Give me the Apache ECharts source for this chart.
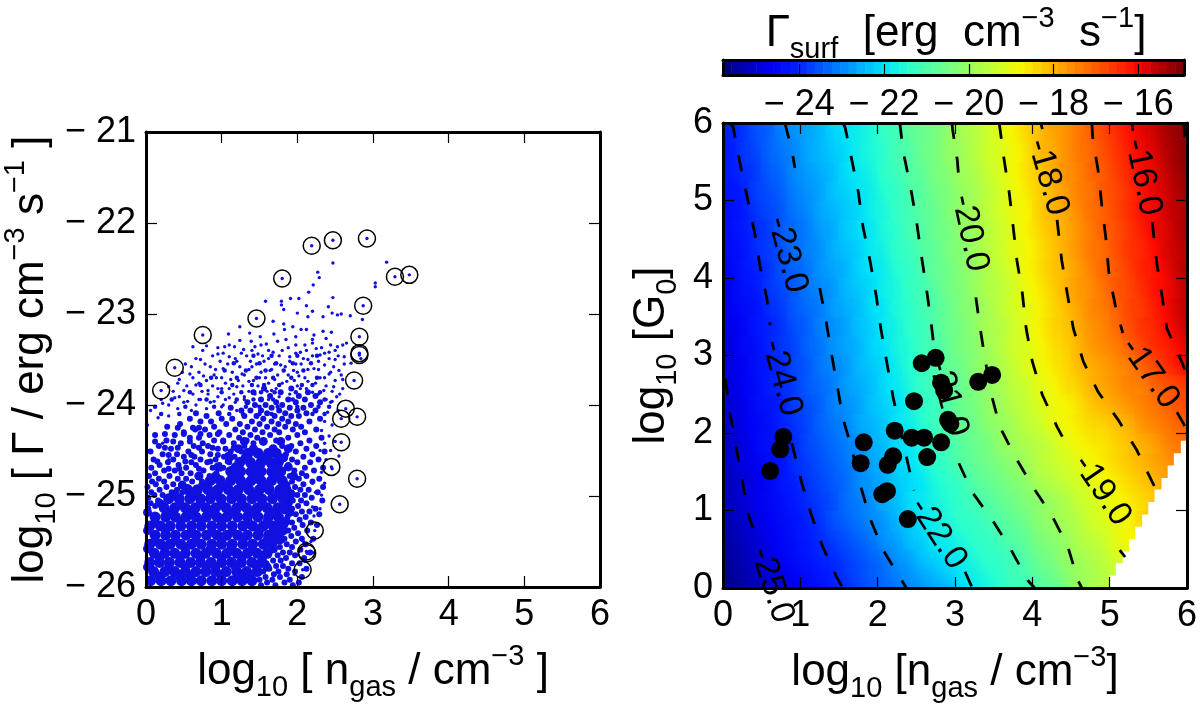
<!DOCTYPE html>
<html><head><meta charset="utf-8">
<style>html,body{margin:0;padding:0;background:#fff}#c{width:1200px;height:706px}</style>
<script src="https://cdn.jsdelivr.net/npm/echarts@6/dist/echarts.min.js"></script>
</head><body><div id="c"></div>
<script>
// ---- left panel: log10 n_gas, log10 Gamma ----
const circledPoints=[[.2,-23.84],[.38,-23.59],[.75,-23.23],[1.46,-23.05],[1.8,-22.61],[2.19,-22.25],[2.47,-22.19],[2.92,-22.17],[3.29,-22.59],[3.48,-22.57],[2.87,-22.91],[2.82,-23.25],[2.82,-23.45],[2.82,-23.43],[2.75,-23.73],[2.64,-24.04],[2.58,-24.15],[2.79,-24.13],[2.58,-24.41],[2.45,-24.68],[2.79,-24.81],[2.56,-25.09],[2.23,-25.38],[2.13,-25.63],[2.12,-25.61],[2.07,-25.81]];
const sparsePoints=[[2.47,-22.44],[2.27,-22.54],[2.29,-22.6],[3.18,-22.43],[3.03,-22.66],[3.03,-22.7],[2.21,-22.68],[2.15,-22.76],[2.02,-22.83],[1.91,-22.83],[1.79,-22.86],[1.79,-22.9],[1.82,-22.95],[1.58,-22.86],[2.47,-22.82],[2.12,-22.91],[2.41,-22.92],[2.2,-22.97],[2,-22.99],[2.14,-23.03],[2.34,-23.03],[2.46,-22.99],[2.53,-23.01],[2.58,-23],[2.7,-23.02],[2.86,-23.06],[1.68,-23.08],[1.82,-23.11],[1.24,-23.14],[1.94,-23.14],[2.05,-23.17],[2.12,-23.17],[2.34,-23.19],[2.45,-23.2],[1.09,-23.22],[1.37,-23.21],[1.51,-23.25],[1.69,-23.22],[1.83,-23.17],[1.85,-23.28],[1.98,-23.25],[2.22,-23.23],[2.38,-23.27],[1.24,-23.29],[1.39,-23.3],[.62,-23.36],[.8,-23.35],[1.04,-23.36],[1.17,-23.36],[1.29,-23.39],[1.44,-23.36],[1.59,-23.33],[1.74,-23.3],[1.98,-23.34],[2.2,-23.28],[2.2,-23.32],[2.25,-23.38],[2.53,-23.36],[2.6,-23.34],[2.65,-23.32],[2.84,-23.49],[2.71,-23.54],
[.95,-23.44],[1.1,-23.47],[.72,-23.5],[.52,-23.55],[.85,-23.58],[1.02,-23.6],[1.2,-23.52],[1.33,-23.46],[1.48,-23.44],[1.56,-23.52],[1.68,-23.42],[1.8,-23.4],[1.9,-23.47],[2.04,-23.42],[2.14,-23.5],[2.3,-23.45],[2.42,-23.42],[2.5,-23.5],[2.62,-23.47],[2.36,-23.56],[2.22,-23.6],[2.05,-23.55],[1.95,-23.62],[1.78,-23.56],[1.64,-23.62],[1.4,-23.58],[1.27,-23.66],[1.12,-23.72],[.93,-23.7],[.76,-23.68],[.58,-23.66],[.44,-23.72],[.3,-23.8],[.5,-23.84],[.66,-23.78],[.82,-23.84],[1,-23.82],[1.2,-23.8],[1.36,-23.74],[1.5,-23.7],[1.7,-23.72],[1.86,-23.74],[2.02,-23.68],[2.14,-23.74],[2.3,-23.7],[2.42,-23.66],[2.55,-23.62],[2.6,-23.72],[2.48,-23.8],[2.35,-23.84],[2.2,-23.86],[2.04,-23.82],[1.66,-23.84],[1.44,-23.88],[1.3,-23.94],[1.1,-23.92],[.9,-23.96],[.72,-23.94],[.55,-23.96],[.38,-23.92],[.22,-23.98],[.42,-24.04],[.6,-24.06],[.8,-24.04],[1,-24.02],[1.2,-24.06],[2.3,-23.96],[2.46,-23.96],[2.56,-23.88],[2.54,-24.06],[2.4,-24.08],[2.36,-24.18],[2.46,-24.22],[2.32,-24.28],[2.42,-24.34],[2.5,-24.4],[2.36,-24.42],[2.3,-24.5],[2.44,-24.5],[2.55,-24.56],[2.38,-24.6],[2.46,-24.7],[2.32,-24.74],[2.2,-24.86],[2.36,-24.86],[2.24,-24.96],[2.32,-24.99],[2.06,-25.3],[2.2,-25.12],[2.3,-25.14],[2.08,-25.5],[2.22,-25.22],[2.18,-25.5],[2.2,-25.62],[2.1,-25.72],[2.02,-25.94],[1.96,-25.86],[.06,-24.06],[.02,-24.22],[.16,-24.14],[.3,-24.12],[.04,-24.5],[.22,-24.42],[.3,-24.6]];
const sparseRows=[[-24,[.3,.66,1.02]],[-23.97,[.5,.85,1.18,2.44]],[-23.94,[.2,.7,1.05,1.62,2.38]],[-23.91,[.44,.95,1.3,1.76,2.52]],[-23.88,[.62,.82,1.16,1.9,2.28]],[-23.85,[.36,.74,1.36,1.6,2.46]],[-23.82,[.95,1.1,1.72,2.12,2.6]],[-23.79,[.54,.88,1.28,1.48,2,2.38]],[-23.76,[.42,.7,1.05,1.62,1.8,2.24]],[-23.73,[.8,1.22,1.42,1.96,2.5]],[-23.7,[.62,1,1.58,2.1,2.36]],[-23.67,[.9,1.3,1.74,1.88,2.58]],[-23.64,[.48,.7,1.14,1.52,2,2.44]],[-23.61,[.92,1.36,1.66,2.14,2.28]],[-23.58,[.6,1.24,1.84,2.48]],[-23.55,[.78,1.08,1.46,1.7,1.98,2.62]],[-23.52,[.98,1.38,1.9,2.28]],[-23.49,[.66,1.18,1.62,2.08,2.42]],[-23.46,[.88,1.54,1.76,2.2,2.54]],[-23.43,[1.02,1.26,1.98,2.36]],[-23.4,[.75,1.4,1.62,2.12,2.5]],[-23.37,[.95,1.88,2.32]],[-23.34,[1.1,1.52,2.1,2.44]]];
const transitionRows=[[-24.1,[.2,.44,1.1,1.28,1.5,1.66,2.2,2.36]],[-24.02,[.12,.52,.9,1.32,1.5,1.74,2,2.28,2.42]],[-23.94,[.34,.8,1.2,1.42,1.68,1.94,2.36]],[-23.86,[.58,1,1.26,1.52,1.7,1.98,2.3]],[-23.78,[.72,1.14,1.4,1.56,1.76,2.06,2.2]],[-23.7,[.86,1.2,1.46,1.68,1.92,2.26]],[-23.62,[1.04,1.32,1.58,1.82,2.08]],[-23.54,[1.16,1.5,1.72,1.94,2.18]],[-23.46,[1.42,1.66,2,2.26]]];
const midDotRows=[[-25.98,[1.52,1.71,1.94]],[-25.95,[1.6,1.83,2.02]],[-25.92,[1.5,1.67,1.9]],[-25.89,[1.58,1.77,2.06]],[-25.86,[1.69,1.86]],[-25.83,[1.55,1.75,1.97]],[-25.8,[1.63,1.88,2.12]],[-25.77,[1.72,1.81]],[-25.74,[1.59,1.93,2.03]],[-25.71,[1.68,1.78]],[-25.68,[1.85,2.09]],[-25.65,[1.62,1.74,1.97]],[-25.62,[1.81,1.9,2.17]],[-25.59,[1.7,2.04]],[-25.56,[1.77,1.93]],[-25.53,[1.66,1.86,2.11]],[-25.5,[1.74,1.98]],[-25.47,[1.83,2.06,2.21]],[-25.44,[1.72,1.92]],[-25.41,[1.8,2.01]],[-25.38,[1.88,2.13]],[-25.35,[1.76,1.96]],[-25.32,[1.84,2.07,2.26]],[-25.29,[1.93,2.18]],[-25.26,[1.79,2.03]],[-25.23,[1.87,2.11]],[-25.2,[1.98,2.29]],[-25.17,[1.84,2.06,2.16]],[-25.14,[1.93,2.24,.03]],[-25.11,[1.88,2.01,.12]],[-25.08,[2.12,.06,.21]],[-25.05,[1.94,2.05,2.33,.16]],[-25.02,[1.9,2.19,.03,.27]],[-24.99,[2,2.1,.11,.22]],[-24.96,[1.92,2.27,.07,.34,.48]],[-24.93,[2.04,2.15,.18,.41]],[-24.9,[1.97,2.34,.02,.27,.55]],[-24.87,[2.08,.13,.36,.47]],[-24.84,[1.93,2.2,.08,.24,.61,.74]],[-24.81,[2.02,2.29,.17,.42,.53]],[-24.78,[1.9,2.12,.04,.31,.68,.84]],[-24.75,[2.06,.12,.47,.59,.93]],[-24.72,[1.96,2.22,.24,.38,.76]],[-24.69,[2.1,2.34,.07,.53,.88,1.02]],[-24.66,[1.88,.18,.43,.66,.97]],[-24.63,[2,2.17,.29,.6,.81,1.1]],[-24.6,[1.93,2.28,.1,.36,.72,.92]],[-24.57,[2.08,.5,.64,1.03,1.17]],[-24.54,[1.85,2.2,.22,.41,.85]],[-24.51,[1.98,2.36,.06,.56,.74,1.12,1.26]],[-24.48,[2.12,.33,.95,1.05]],[-24.45,[1.8,1.92,2.25,.17,.63,.82,1.3]],[-24.42,[2.04,.46,.75,1.16,1.42]],[-24.39,[1.72,2.16,.27,.9,1.02,1.33,1.56]],[-24.36,[1.88,2.32,.58,.7,1.23,1.47]],[-24.33,[2,.12,.38,.84,1.1,1.38,1.64]],[-24.3,[1.76,2.1,.5,.97,1.28,1.54]],[-24.27,[1.94,2.25,.65,.78,1.18,1.44,1.7]],[-24.24,[1.84,2.05,.28,.9,1.34,1.6]],[-24.21,[1.98,.45,1.06,1.24,1.5,1.75]],[-24.18,[2.16,.72,.86,1.4,1.66,1.88]],[-24.15,[2.3,.58,1,1.14,1.55,1.8]],[-24.12,[2.02,.8,1.3,1.46,1.7,1.92]],[-24.09,[2.12,.66,.96,1.6,1.84]],[-24.06,[1.26,1.38,1.52,1.76,2,2.24]],[-24.03,[1.12,1.66,1.9,2.08]],[-24,[1.44,1.58,1.8,2.18]],[-23.97,[1.34,1.72,1.98,2.3]],[-23.94,[1.52,1.88,2.1]],[-23.9,[1.64,2.02,2.24]],[-23.86,[1.42,1.78,2.14]],[-23.82,[1.56,1.92]],
[-24.7,[.3,.44,.7,.98]],[-24.62,[.15,.52,.85,1.08]],[-24.55,[.3,.6,.95,1.08]],[-24.47,[.25,.42,.7,.88,1.16]],[-24.4,[.12,.36,.58,1.02]],[-24.32,[.25,.5,.72,.95]],[-24.25,[.42,.62,.7]]];
const coreDotRows=[[-25.93,[.06,.2,.33,.47,.6,.73,.87,1,1.14,1.27,1.4]],[-25.83,[.1,.25,.38,.52,.66,.79,.92,1.06,1.2,1.33,1.47]],[-25.73,[.05,.18,.31,.45,.59,.72,.86,1,1.13,1.26,1.4,1.53]],[-25.63,[.11,.25,.38,.52,.66,.79,.93,1.07,1.2,1.34,1.47,1.6]],[-25.53,[.05,.19,.32,.46,.6,.73,.87,1,1.14,1.28,1.41,1.55,1.66]],[-25.43,[.12,.26,.39,.53,.66,.8,.94,1.07,1.21,1.34,1.48,1.62,1.72]],[-25.33,[.05,.19,.32,.46,.6,.73,.87,1,1.14,1.28,1.41,1.55,1.68,1.76]],[-25.23,[.12,.26,.39,.53,.66,.8,.94,1.07,1.21,1.34,1.48,1.62,1.75]],[-25.13,[.24,.38,.52,.65,.79,.92,1.06,1.2,1.33,1.47,1.6,1.74,1.82]],[-25.03,[.3,.44,.58,.72,.85,.99,1.13,1.26,1.4,1.53,1.67,1.81]],[-24.93,[.55,.68,.82,.95,1.09,1.22,1.36,1.5,1.63,1.77,1.85]],[-24.83,[.85,.98,1.12,1.25,1.39,1.52,1.66,1.8]],[-24.73,[1.12,1.25,1.39,1.52,1.66,1.78]],[-24.63,[1.24,1.38,1.52,1.65,1.75]],[-24.53,[1.35,1.48,1.62,1.72]]];
const fillDotRows=[[-25.88,[.17,.44,.58,.99,1.24,1.37]],[-25.78,[.02,.3,.52,.8,.92,1.18,1.46,1.6]],[-25.68,[.18,.45,.72,1,1.27,1.54]],[-25.58,[.02,.25,.52,.85,1.12,1.4,1.68]],[-25.48,[.12,.39,.66,1,1.28,1.6,1.78]],[-25.38,[.02,.26,.6,.87,1.14,1.5,1.82]],[-25.28,[.12,.46,.73,1,1.35,1.6,1.85]],[-25.18,[.02,.32,.59,.87,1.14,1.41,1.68,1.9]],[-25.08,[.18,.45,.72,1,1.27,1.54,1.88]],[-24.98,[.38,.65,.92,1.19,1.46,1.74,1.92]],[-24.88,[.48,.75,1.02,1.3,1.57,1.85]],[-24.78,[.7,.92,1.18,1.45,1.72,1.95]],[-24.68,[.95,1.18,1.45,1.72,1.88]],[-24.58,[1.1,1.31,1.58,1.82]],[-24.48,[1.22,1.42,1.68,1.88]],[-24.4,[1.3,1.55,1.78]]];
// ---- right panel: Gamma_surf map, 36 columns by 24 rows, from G0=0 upward ----
const gammaRows=[
[-25.6,-25.4,-25.2,-25,-24.9,-24.7,-24.5,-24.3,-24.1,-23.9,-23.7,-23.5,-23.3,-23.1,-22.9,-22.7,-22.5,-22.3,-22,-21.8,-21.6,-21.4,-21.2,-21.1,-20.8,-20.6,-20.3,-20,-19.8,-19.6,-19.4,-19.1],
[-25.5,-25.3,-25.1,-24.9,-24.7,-24.5,-24.3,-24.1,-24,-23.8,-23.6,-23.4,-23.2,-22.9,-22.7,-22.4,-22.2,-22,-21.8,-21.6,-21.4,-21.3,-21.1,-20.9,-20.6,-20.4,-20.1,-19.9,-19.7,-19.5,-19.2,-19,-18.8],
[-25.4,-25.2,-25,-24.8,-24.6,-24.4,-24.2,-24,-23.8,-23.6,-23.4,-23.2,-22.9,-22.7,-22.4,-22.2,-21.9,-21.8,-21.6,-21.4,-21.3,-21.1,-20.9,-20.7,-20.4,-20.2,-20,-19.7,-19.5,-19.3,-19,-18.8,-18.6],
[-25.3,-25.1,-24.9,-24.7,-24.5,-24.3,-24.1,-23.9,-23.6,-23.4,-23.2,-23,-22.8,-22.5,-22.3,-22,-21.8,-21.6,-21.4,-21.3,-21.1,-20.9,-20.7,-20.5,-20.2,-20,-19.8,-19.6,-19.3,-19.1,-18.9,-18.7,-18.4,-18.2],
[-25.2,-25,-24.8,-24.6,-24.4,-24.2,-24,-23.8,-23.6,-23.3,-23.1,-22.9,-22.6,-22.4,-22.1,-21.9,-21.7,-21.5,-21.3,-21.1,-20.9,-20.7,-20.5,-20.3,-20.1,-19.9,-19.7,-19.4,-19.2,-19,-18.8,-18.6,-18.4,-18.2,-18],
[-25.2,-25,-24.8,-24.6,-24.3,-24.1,-23.9,-23.7,-23.5,-23.3,-23,-22.8,-22.6,-22.3,-22.1,-21.9,-21.6,-21.4,-21.2,-20.9,-20.7,-20.5,-20.3,-20.1,-19.8,-19.6,-19.4,-19.2,-19,-18.8,-18.6,-18.4,-18.2,-18,-17.8],
[-25.1,-24.9,-24.7,-24.5,-24.3,-24,-23.8,-23.6,-23.4,-23.2,-23,-22.7,-22.5,-22.2,-22,-21.7,-21.4,-21.2,-20.9,-20.7,-20.5,-20.3,-20.1,-19.9,-19.6,-19.4,-19.2,-19,-18.8,-18.6,-18.4,-18.2,-18,-17.8,-17.6,-17.4],
[-25.1,-24.9,-24.6,-24.4,-24.2,-24,-23.7,-23.5,-23.3,-23.1,-22.9,-22.6,-22.4,-22.1,-21.9,-21.6,-21.3,-21.1,-20.8,-20.6,-20.4,-20.1,-19.9,-19.7,-19.5,-19.3,-19,-18.8,-18.6,-18.5,-18.3,-18.1,-17.9,-17.7,-17.4,-17.2],
[-25,-24.8,-24.6,-24.4,-24.1,-23.9,-23.7,-23.4,-23.2,-23,-22.7,-22.5,-22.3,-22,-21.8,-21.5,-21.2,-21,-20.7,-20.5,-20.2,-20,-19.8,-19.5,-19.3,-19,-18.8,-18.6,-18.4,-18.3,-18.1,-17.9,-17.6,-17.4,-17.2,-17],
[-25,-24.8,-24.5,-24.3,-24.1,-23.8,-23.6,-23.4,-23.1,-22.9,-22.7,-22.4,-22.2,-22,-21.7,-21.4,-21.2,-20.9,-20.6,-20.4,-20.1,-19.9,-19.6,-19.4,-19.1,-18.9,-18.7,-18.5,-18.2,-18,-17.8,-17.6,-17.4,-17.2,-17,-16.8],
[-24.9,-24.7,-24.5,-24.2,-24,-23.8,-23.5,-23.3,-23.1,-22.8,-22.6,-22.4,-22.1,-21.9,-21.6,-21.3,-21.1,-20.8,-20.6,-20.3,-20.1,-19.8,-19.5,-19.3,-19,-18.8,-18.5,-18.3,-18,-17.8,-17.6,-17.4,-17.3,-17,-16.8,-16.6],
[-24.9,-24.7,-24.4,-24.2,-24,-23.7,-23.5,-23.2,-23,-22.8,-22.5,-22.3,-22.1,-21.8,-21.5,-21.3,-21,-20.7,-20.5,-20.2,-20,-19.7,-19.4,-19.1,-18.9,-18.6,-18.4,-18.1,-17.9,-17.7,-17.5,-17.3,-17,-16.7,-16.4,-16.1],
[-24.9,-24.6,-24.4,-24.1,-23.9,-23.7,-23.4,-23.2,-22.9,-22.7,-22.5,-22.2,-22,-21.7,-21.5,-21.2,-21,-20.7,-20.4,-20.2,-19.9,-19.6,-19.3,-19.1,-18.8,-18.5,-18.3,-18,-17.7,-17.5,-17.3,-17,-16.7,-16.4,-16.2,-15.9],
[-24.8,-24.6,-24.3,-24.1,-23.9,-23.6,-23.4,-23.1,-22.9,-22.7,-22.4,-22.2,-21.9,-21.7,-21.4,-21.2,-20.9,-20.6,-20.4,-20.1,-19.8,-19.6,-19.3,-19,-18.7,-18.4,-18.2,-17.9,-17.6,-17.4,-17.1,-16.8,-16.5,-16.3,-16,-15.7],
[-24.7,-24.5,-24.3,-24,-23.8,-23.5,-23.3,-23.1,-22.8,-22.6,-22.4,-22.1,-21.9,-21.6,-21.4,-21.1,-20.9,-20.6,-20.3,-20.1,-19.8,-19.5,-19.2,-19,-18.7,-18.4,-18.1,-17.8,-17.5,-17.3,-17,-16.7,-16.5,-16.2,-15.9,-15.6],
[-24.7,-24.4,-24.2,-23.9,-23.7,-23.5,-23.2,-23,-22.8,-22.5,-22.3,-22.1,-21.8,-21.6,-21.3,-21.1,-20.8,-20.5,-20.3,-20,-19.7,-19.5,-19.2,-18.9,-18.6,-18.3,-18,-17.7,-17.5,-17.2,-16.9,-16.7,-16.4,-16.1,-15.9,-15.6],
[-24.6,-24.3,-24.1,-23.9,-23.6,-23.4,-23.2,-22.9,-22.7,-22.5,-22.2,-22,-21.8,-21.5,-21.3,-21,-20.7,-20.5,-20.2,-20,-19.7,-19.4,-19.1,-18.8,-18.5,-18.2,-18,-17.7,-17.4,-17.1,-16.9,-16.6,-16.3,-16.1,-15.8,-15.5],
[-24.5,-24.3,-24,-23.8,-23.6,-23.3,-23.1,-22.9,-22.6,-22.4,-22.2,-21.9,-21.7,-21.4,-21.2,-20.9,-20.7,-20.4,-20.2,-19.9,-19.6,-19.3,-19,-18.8,-18.5,-18.2,-17.9,-17.6,-17.3,-17.1,-16.8,-16.5,-16.3,-16,-15.7,-15.5],
[-24.4,-24.2,-24,-23.8,-23.5,-23.3,-23.1,-22.8,-22.6,-22.3,-22.1,-21.9,-21.6,-21.4,-21.1,-20.9,-20.6,-20.4,-20.1,-19.9,-19.6,-19.3,-19,-18.7,-18.4,-18.1,-17.9,-17.6,-17.3,-17,-16.8,-16.5,-16.2,-15.9,-15.7,-15.4],
[-24.4,-24.2,-23.9,-23.7,-23.5,-23.2,-23,-22.7,-22.5,-22.3,-22.1,-21.8,-21.6,-21.3,-21.1,-20.8,-20.6,-20.3,-20.1,-19.8,-19.5,-19.2,-18.9,-18.7,-18.3,-18,-17.8,-17.5,-17.2,-17,-16.7,-16.4,-16.1,-15.9,-15.6,-15.4],
[-24.3,-24.1,-23.8,-23.6,-23.4,-23.1,-22.9,-22.7,-22.4,-22.2,-22,-21.8,-21.5,-21.3,-21,-20.8,-20.5,-20.3,-20,-19.8,-19.5,-19.2,-18.9,-18.6,-18.3,-18,-17.7,-17.4,-17.2,-16.9,-16.7,-16.4,-16.1,-15.8,-15.6,-15.3],
[-24.2,-24,-23.8,-23.5,-23.3,-23,-22.8,-22.6,-22.4,-22.1,-21.9,-21.7,-21.4,-21.2,-20.9,-20.7,-20.4,-20.2,-19.9,-19.7,-19.4,-19.1,-18.8,-18.5,-18.2,-17.9,-17.6,-17.4,-17.1,-16.9,-16.6,-16.3,-16,-15.8,-15.5,-15.2],
[-24.2,-23.9,-23.7,-23.4,-23.2,-23,-22.7,-22.5,-22.3,-22.1,-21.8,-21.6,-21.4,-21.1,-20.9,-20.6,-20.4,-20.1,-19.9,-19.6,-19.3,-19.1,-18.8,-18.5,-18.1,-17.9,-17.6,-17.3,-17.1,-16.8,-16.5,-16.2,-15.9,-15.7,-15.4,-15.1],
[-24.1,-23.9,-23.6,-23.4,-23.1,-22.9,-22.7,-22.5,-22.2,-22,-21.8,-21.6,-21.3,-21.1,-20.8,-20.6,-20.4,-20.1,-19.8,-19.6,-19.3,-19,-18.7,-18.4,-18.1,-17.8,-17.6,-17.3,-17,-16.7,-16.4,-16.1,-15.8,-15.6,-15.3,-15.1]];
const noDataCorners=[[5,0],[5,.16],[5.08,.16],[5.08,.32],[5.17,.32],[5.17,.47],[5.25,.47],[5.25,.63],[5.33,.63],[5.33,.79],[5.42,.79],[5.42,.95],[5.5,.95],[5.5,1.11],[5.58,1.11],[5.58,1.27],[5.67,1.27],[5.67,1.42],[5.75,1.42],[5.75,1.58],[5.83,1.58],[5.83,1.74],[5.92,1.74],[5.92,1.9],[6,1.9],[6,0]];
const pdrPoints=[[.61,1.51],[.74,1.79],[.78,1.95],[1.78,1.61],[1.82,1.88],[2.06,1.21],[2.12,1.25],[2.13,1.59],[2.2,1.7],[2.22,2.03],[2.39,.89],[2.44,1.94],[2.6,1.94],[2.64,1.69],[2.82,1.88],[2.91,2.17],[2.94,2.12],[2.47,2.41],[2.57,2.9],[2.75,2.97],[2.82,2.65],[2.86,2.55],[3.3,2.66],[3.48,2.75]];
// contours, null marks a break at an inline label
const contourM25=[[.03,2.7],[.09,2.27],[.16,1.87],[.25,1.39],[.32,.97],[.42,.68]];
const contourM24=[[.09,6],[.13,5.95],[.23,5.43],[.32,5.01],[.41,4.58],[.48,4.14],[.57,3.72],[.61,3.39],null,[.89,1.87],[1.02,1.35],[1.15,.92],[1.29,.53],[1.47,.14],[1.55,0]];
const contourM23=[[.8,6],[.89,5.65],[.93,5.42],null,[1.25,3.87],[1.32,3.52],[1.41,2.98],[1.47,2.65],[1.55,2.19],[1.67,1.78],[1.77,1.35],[1.9,.9],[2.07,.49],[2.31,.1],[2.37,0]];
const contourM22=[[1.55,6],[1.58,5.94],[1.66,5.55],[1.75,5.11],[1.81,4.66],[1.9,4.23],[1.98,3.78],[2.04,3.35],[2.12,2.9],[2.2,2.46],[2.29,2.04],[2.39,1.61],[2.47,1.26],null,[3.13,.21],[3.22,.01]];
const contourM21=[[2.28,6],[2.29,5.97],[2.33,5.63],[2.42,5.2],[2.5,4.75],[2.56,4.32],[2.63,3.87],[2.69,3.43],[2.74,3.01],null,[3.05,1.61],[3.22,1.24],[3.48,.88],[3.71,.52],[3.94,.1],[4.03,0]];
const contourM20=[[2.96,6],[2.97,5.91],[3.03,5.52],[3.06,5.14],null,[3.27,3.75],[3.32,3.39],[3.39,2.94],[3.48,2.46],[3.58,2.08],[3.78,1.69],[4.01,1.3],[4.25,.94],[4.46,.53],[4.59,.1],[4.64,0]];
const contourM19=[[3.57,6],[3.58,5.94],[3.63,5.56],[3.7,5.11],[3.75,4.68],[3.8,4.23],[3.87,3.81],[3.92,3.35],[4,2.92],[4.13,2.49],[4.32,2.08],[4.46,1.82],null,[5.13,.49],[5.2,.4]];
const contourM18=[[4.11,6],[4.13,5.92],null,[4.32,4.75],[4.38,4.23],[4.45,3.81],[4.53,3.35],[4.66,2.92],[4.85,2.53],[5.11,2.17],[5.35,1.78],[5.55,1.37],[5.65,1.17]];
const contourM17=[[4.77,6],[4.78,5.82],[4.85,5.39],[4.9,4.92],[4.95,4.52],[4.99,4.06],[5.08,3.61],[5.17,3.29],null,[5.87,2.27],[6,2.04]];
const contourM16=[[5.29,6],[5.3,5.9],null,[5.55,4.72],[5.61,4.19],[5.68,3.75],[5.74,3.35],[5.94,2.9],[6,2.75]];
const contourM15=[[5.96,6],[5.97,5.82]];
const contourLines=[contourM25,contourM24,contourM23,contourM22,contourM21,contourM20,contourM19,contourM18,contourM17,contourM16,contourM15];
const contourLabelText=['-25.0','-24.0','-23.0','-22.0','-21.0','-20.0','-19.0','-18.0','-17.0','-16.0'];
const contourLabelAt=[[.63,.04],[.76,2.71],[.83,4.3],[2.78,.7],[2.91,2.45],[3.19,4.58],[4.9,1.26],[4.2,5.3],[5.52,2.77],[5.43,5.3]];
const contourLabelAngle=[-72,-75,-75,-57,-75,-78,-56,-74,-55,-78];
// colour bar
const colorbarLevels=[-25.75,-25.55,-25.35,-25.15,-24.95,-24.75,-24.55,-24.35,-24.15,-23.95,-23.75,-23.55,-23.35,-23.15,-22.95,-22.75,-22.55,-22.35,-22.15,-21.95,-21.75,-21.55,-21.35,-21.15,-20.95,-20.75,-20.55,-20.35,-20.15,-19.95,-19.75,-19.55,-19.35,-19.15,-18.95,-18.75,-18.55,-18.35,-18.15,-17.95,-17.75,-17.55,-17.35,-17.15,-16.95,-16.75,-16.55,-16.35,-16.15,-15.95,-15.75,-15.55,-15.35,-15.15,-14.95];
const colorbarTicks=[-24,-22,-20,-18,-16];
const jet=['#00007f','#0000ba','#0000f3','#0019ff','#004cff','#0080ff','#00b3ff','#00e5f8','#29ffce','#52ffa4','#7bff7b','#a4ff52','#ceff29','#f7f600','#ffc600','#ff9700','#ff6800','#ff3900','#ff0900','#ba0000','#7f0000'];

const FONT='"Liberation Sans",Arial,sans-serif';
const CMIN=-25.8,CMAX=-14.92;
const rows2pts=r=>r.flatMap(([y,xs])=>xs.map(x=>[x,y]));
const minus=v=>String(v).replace('-','\u2212 ');
const rich={t:{fontSize:44,lineHeight:60,fontFamily:FONT,color:'#000',fontWeight:'normal'},
 sub:{fontSize:29,lineHeight:34,verticalAlign:'bottom',fontFamily:FONT,color:'#000',fontWeight:'normal'},
 sup:{fontSize:29,lineHeight:28,verticalAlign:'top',fontFamily:FONT,color:'#000',fontWeight:'normal'}};
const line={show:true,onZero:false,lineStyle:{color:'#000',width:3}};
const tick={show:true,inside:true,length:11,lineStyle:{color:'#000',width:1.2}};
const lab={fontSize:36,color:'#000',fontFamily:FONT,margin:10};
const base=(o)=>Object.assign({type:'value',z:10,axisLine:line,axisTick:tick,splitLine:{show:false},axisLabel:{show:false}},o);
const hidden=(n,g)=>({type:'category',gridIndex:g,show:false,data:Array.from({length:n},(_,i)=>i)});
const box=(left,top,width,height)=>({left,top,width,height,containLabel:false,outerBoundsMode:'none'});
const hm=[];gammaRows.forEach((r,j)=>r.forEach((v,i)=>hm.push([i,j,v])));
// colour of a value on the same ramp as the visualMap
function jetColor(v){const t=Math.max(0,Math.min(1,(v-CMIN)/(CMAX-CMIN)))*(jet.length-1),a=Math.min(Math.floor(t),jet.length-2),f=t-a;
 const h=(s,k)=>parseInt(s.substr(1+2*k,2),16);
 return 'rgb('+[0,1,2].map(k=>Math.round(h(jet[a],k)*(1-f)+h(jet[a+1],k)*f)).join(',')+')';}
const val=(i,j)=>{const r=gammaRows[j];return r&&r[i]!==undefined?r[i]:null;};
// smooth shading of each cell: a gradient along the local slope of the read grid
function smoothCell(p,api){
 const i=api.value(0),j=api.value(1),v=api.value(2),nx=36,ny=24;
 const a=api.coord([i/nx*6,j/ny*6]),b=api.coord([(i+1)/nx*6,(j+1)/ny*6]);
 const w=b[0]-a[0],h=a[1]-b[1],cx=(a[0]+b[0])/2,cy=(a[1]+b[1])/2;
 const L=val(i-1,j),R=val(i+1,j),D=val(i,j-1),U=val(i,j+1);
 const gx=(L!==null&&R!==null)?(R-L)/(2*w):(R!==null?(R-v)/w:(L!==null?(v-L)/w:0));
 const gy=(D!==null&&U!==null)?(D-U)/(2*h):(D!==null?(D-v)/h:(U!==null?(v-U)/h:0));
 const g=Math.hypot(gx,gy)||1e-6,dx=gx/g,dy=gy/g,P=w/2*Math.abs(dx)+h/2*Math.abs(dy);
 const stops=[0,.25,.5,.75,1].map(o=>({offset:o,color:jetColor(v+g*P*(2*o-1))}));
 return {type:'rect',shape:{x:b[0]-w-.5,y:b[1]-.5,width:w+1,height:h+1},
  style:{fill:new echarts.graphic.LinearGradient(cx-dx*P,cy-dy*P,cx+dx*P,cy+dy*P,stops,true)}};
}
const option={animation:false,backgroundColor:'#fff',
 grid:[box(146,132,454,455),box(723,123,464,465),box(723,123,464,465),box(723,60,461,15),box(723,60,461,15)],
 title:{text:'{t|\u0393}{sub|surf}{t|  [erg  cm}{sup|\u22123}{t|  s}{sup|\u22121}{t|]}',left:951,top:-1,textAlign:'center',textStyle:{rich}},
 visualMap:{show:false,type:'continuous',min:CMIN,max:CMAX,dimension:2,seriesIndex:[0,1],inRange:{color:jet}},
 xAxis:[
  base({gridIndex:0,min:0,max:6,interval:1,axisLabel:lab,nameLocation:'middle',nameGap:55,name:'{t|log}{sub|10}{t| [ n}{sub|gas}{t| / cm}{sup|\u22123}{t| ]}',nameTextStyle:{rich}}),
  base({gridIndex:0,min:0,max:6,interval:1,position:'top'}),
  base({gridIndex:1,min:0,max:6,interval:1,axisLabel:lab,nameLocation:'middle',nameGap:55,name:'{t|log}{sub|10}{t| [n}{sub|gas}{t| / cm}{sup|\u22123}{t|]}',nameTextStyle:{rich}}),
  base({gridIndex:1,min:0,max:6,interval:1,position:'top'}),
  hidden(36,2),
  base({gridIndex:3,min:CMIN,max:CMAX,axisTick:Object.assign({},tick,{customValues:colorbarTicks}),axisLabel:Object.assign({},lab,{show:true,customValues:colorbarTicks,formatter:minus,margin:12})}),
  base({gridIndex:3,min:CMIN,max:CMAX,position:'top',axisTick:{show:false}}),
  hidden(colorbarLevels.length,4)],
 yAxis:[
  base({gridIndex:0,min:-26,max:-21,interval:1,axisLabel:Object.assign({},lab,{formatter:minus}),nameLocation:'middle',nameGap:81,name:'{t|log}{sub|10}{t| [ \u0393 / erg cm}{sup|\u22123}{t| s}{sup|\u22121}{t| ]}',nameTextStyle:{rich}}),
  base({gridIndex:0,min:-26,max:-21,interval:1,position:'right'}),
  base({gridIndex:1,min:0,max:6,interval:1,axisLabel:lab,nameLocation:'middle',nameGap:41,name:'{t|log}{sub|10}{t| [G}{sub|0}{t|]}',nameTextStyle:{rich}}),
  base({gridIndex:1,min:0,max:6,interval:1,position:'right'}),
  hidden(24,2),
  base({gridIndex:3,min:0,max:1,axisTick:{show:false}}),
  base({gridIndex:3,min:0,max:1,position:'right',axisTick:{show:false}}),
  hidden(1,4)],
 series:[
  {type:'heatmap',xAxisIndex:4,yAxisIndex:4,data:hm,z:1,silent:true,progressive:0},
  {type:'heatmap',xAxisIndex:7,yAxisIndex:7,data:colorbarLevels.map((v,i)=>[i,0,v]),z:1,silent:true},
  {type:'custom',xAxisIndex:2,yAxisIndex:2,z:1,silent:true,clip:true,progressive:0,data:hm,encode:{x:0,y:1},renderItem:smoothCell},
  {type:'custom',xAxisIndex:2,yAxisIndex:2,z:2,silent:true,data:[0],renderItem:(p,api)=>({type:'polygon',shape:{points:noDataCorners.map(c=>api.coord(c))},style:{fill:'#fff'}})},
  ...contourLines.map(d=>({type:'line',xAxisIndex:2,yAxisIndex:2,data:d,z:3,silent:true,symbol:'none',connectNulls:false,lineStyle:{color:'#000',width:2.8,type:[16,18]}})),
  {type:'scatter',xAxisIndex:2,yAxisIndex:2,z:3,silent:true,clip:false,symbolSize:0,itemStyle:{opacity:1},data:contourLabelAt.map((c,i)=>({value:c,label:{show:true,position:'inside',formatter:contourLabelText[i],rotate:contourLabelAngle[i],fontSize:34,color:'#000',fontFamily:FONT}}))},
  {type:'scatter',xAxisIndex:2,yAxisIndex:2,z:4,silent:true,symbolSize:18,itemStyle:{color:'#000',opacity:1},data:pdrPoints},
  {type:'scatter',xAxisIndex:0,yAxisIndex:0,z:2,silent:true,clip:false,symbolSize:11,itemStyle:{color:'#1010e0',opacity:1},data:rows2pts(coreDotRows)},
  {type:'scatter',xAxisIndex:0,yAxisIndex:0,z:2,silent:true,clip:false,symbolSize:9,itemStyle:{color:'#1010e0',opacity:1},data:rows2pts(fillDotRows)},
  {type:'scatter',xAxisIndex:0,yAxisIndex:0,z:2,silent:true,clip:false,symbolSize:6,itemStyle:{color:'#1010e0',opacity:1},data:rows2pts(midDotRows)},
  {type:'scatter',xAxisIndex:0,yAxisIndex:0,z:2,silent:true,clip:false,symbolSize:4.5,itemStyle:{color:'#1010e0',opacity:1},data:rows2pts(transitionRows)},
  {type:'scatter',xAxisIndex:0,yAxisIndex:0,z:2,silent:true,clip:false,symbolSize:3.4,itemStyle:{color:'#1010e0',opacity:1},data:sparsePoints.concat(rows2pts(sparseRows),circledPoints)},
  {type:'scatter',xAxisIndex:0,yAxisIndex:0,z:3,silent:true,symbolSize:17,itemStyle:{color:'rgba(0,0,0,0)',borderColor:'#000',borderWidth:1.5,opacity:1},data:circledPoints}
 ]};
echarts.init(document.getElementById('c'),null,{renderer:'canvas'}).setOption(option);
</script></body></html>
